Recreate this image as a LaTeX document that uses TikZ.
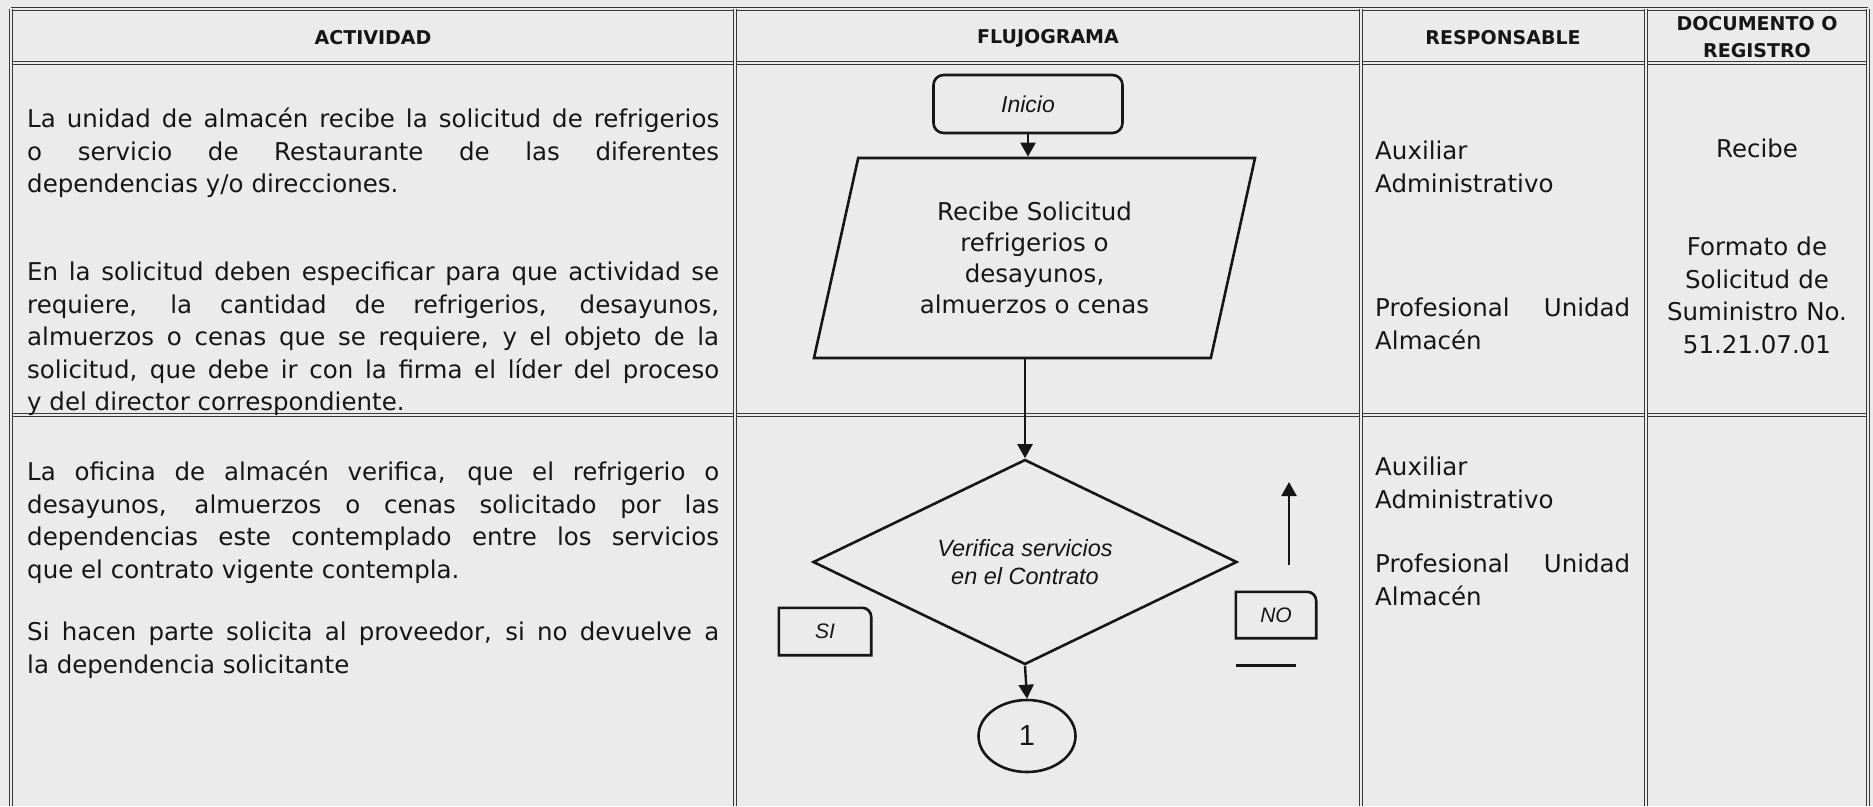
\documentclass[tikz,border=0pt]{standalone}
\usepackage{fontspec}
\setmainfont{DejaVu Sans}
\newfontfamily\arialfont{Liberation Sans}
\usetikzlibrary{arrows.meta,shapes.geometric}
\usepackage{xcolor}
\definecolor{papel}{HTML}{EBEBEB}
\definecolor{tinta}{HTML}{161616}
\definecolor{linea}{HTML}{383838}
\hyphenpenalty=10000
\exhyphenpenalty=10000

\begin{document}
\begin{tikzpicture}[
    x=1pt, y=-1pt,
    celda/.style={inner sep=0pt, anchor=north west, align=justify, text=tinta, font=\fontsize{24.5}{32.5}\selectfont},
    titulo/.style={align=center, text=tinta, font=\bfseries\fontsize{19}{27}\selectfont},
    forma/.style={draw=tinta, line width=2.6pt, align=center, text=tinta},
    etiq/.style={inner sep=0pt, text=tinta, font=\arialfont\itshape\fontsize{21}{25}\selectfont},
    flujo/.style={-{Triangle[length=14pt, width=15pt]}, line width=2.4pt, draw=tinta},
    regla/.style={draw=linea, double=papel, double distance=1.4pt, line width=1pt},
]

\useasboundingbox (0,0) rectangle (1873,806);
\fill[papel] (0,0) rectangle (1873,806);

% table rules
\draw[regla] (11,9) -- (1868,9);
\draw[regla] (11,63) -- (1868,63);
\draw[regla] (11,415) -- (1868,415);
\draw[regla] (11,9) -- (11,806);
\draw[regla] (735,9) -- (735,806);
\draw[regla] (1361,9) -- (1361,806);
\draw[regla] (1646,9) -- (1646,806);
\draw[regla] (1868,9) -- (1868,806);

% headers
\node[titulo] (hact) at (373,38) {ACTIVIDAD};
\node[titulo] (hflu) at (1048,38) {FLUJOGRAMA};
\node[titulo] (hres) at (1503,38) {RESPONSABLE};
\node[titulo] (hdoc) at (1757,37) {DOCUMENTO O\\REGISTRO};

% actividad
\node[celda, text width=692pt] (act1) at (27,108) {La unidad de almacén recibe la solicitud de refrigerios\linebreak o servicio de Restaurante de las diferentes\linebreak dependencias y/o direcciones.};
\node[celda, text width=692pt] (act2) at (27,262) {En la solicitud deben especificar para que actividad se\linebreak requiere, la cantidad de refrigerios, desayunos,\linebreak almuerzos o cenas que se requiere, y el objeto de la\linebreak solicitud, que debe ir con la firma el líder del proceso\linebreak y del director correspondiente.};
\node[celda, text width=692pt] (act3) at (27,461) {La oficina de almacén verifica, que el refrigerio o\linebreak desayunos, almuerzos o cenas solicitado por las\linebreak dependencias este contemplado entre los servicios\linebreak que el contrato vigente contempla.};
\node[celda, text width=692pt] (act4) at (27,622) {Si hacen parte solicita al proveedor, si no devuelve a\linebreak la dependencia solicitante};

% responsable
\node[celda, text width=255pt] (aux1) at (1375,141) {Auxiliar\\Administrativo};
\node[celda, text width=255pt] (prof1) at (1375,298) {Profesional Unidad\linebreak Almacén};
\node[celda, text width=255pt] (aux2) at (1375,457) {Auxiliar\\Administrativo};
\node[celda, text width=255pt] (prof2) at (1375,554) {Profesional Unidad\linebreak Almacén};

% documento
\node[celda, anchor=north, align=center, text width=215pt] (doc1) at (1757,139) {Recibe};
\node[celda, anchor=north, align=center, text width=215pt] (doc2) at (1757,237) {Formato de\\Solicitud de\\Suministro No.\\51.21.07.01};

% flujograma
\node[forma, rounded corners=10pt, minimum width=189pt, minimum height=58pt, font=\arialfont\itshape\fontsize{23}{28}\selectfont] (inicio) at (1028,104) {Inicio};
\node[forma, trapezium, trapezium stretches, trapezium left angle=76, trapezium right angle=104, minimum width=443pt, minimum height=200pt, font=\fontsize{24.5}{31}\selectfont] (recibe) at (1034.5,258) {Recibe Solicitud\\refrigerios o\\desayunos,\\almuerzos o cenas};
\node[forma, diamond, aspect=2.07, minimum width=424pt, minimum height=205pt, inner sep=0pt, font=\arialfont\itshape\fontsize{23.5}{28}\selectfont] (verif) at (1025,562) {Verifica servicios\\en el Contrato};
\node[forma, ellipse, minimum width=97pt, minimum height=72pt, inner sep=0pt, font=\arialfont\fontsize{29}{30}\selectfont] (uno) at (1027,736) {1};
\node[etiq, minimum width=92pt, minimum height=47pt] (si) at (825,631.5) {SI};
\node[etiq, minimum width=80pt, minimum height=46pt] (no) at (1276,615) {NO};
\coordinate (nobase) at (1289,565);
\coordinate (notip) at (1289,482);

\draw[forma] (si.south west) -- (si.north west) -- ([xshift=-9pt]si.north east) arc[start angle=-90, end angle=0, radius=9] -- (si.south east) -- cycle;
\draw[forma] (no.south west) -- (no.north west) -- ([xshift=-9pt]no.north east) arc[start angle=-90, end angle=0, radius=9] -- (no.south east) -- cycle;
\draw[forma] ([yshift=-27pt]no.south west) -- ++(60,0);

\draw[flujo] (inicio.south) -- (inicio.south |- recibe.north);
\draw[flujo] (verif.north |- recibe.south) -- (verif.north);
\draw[flujo] (verif.south) -- (uno.north);
\draw[flujo] (nobase) -- (notip);

\end{tikzpicture}
\end{document}
